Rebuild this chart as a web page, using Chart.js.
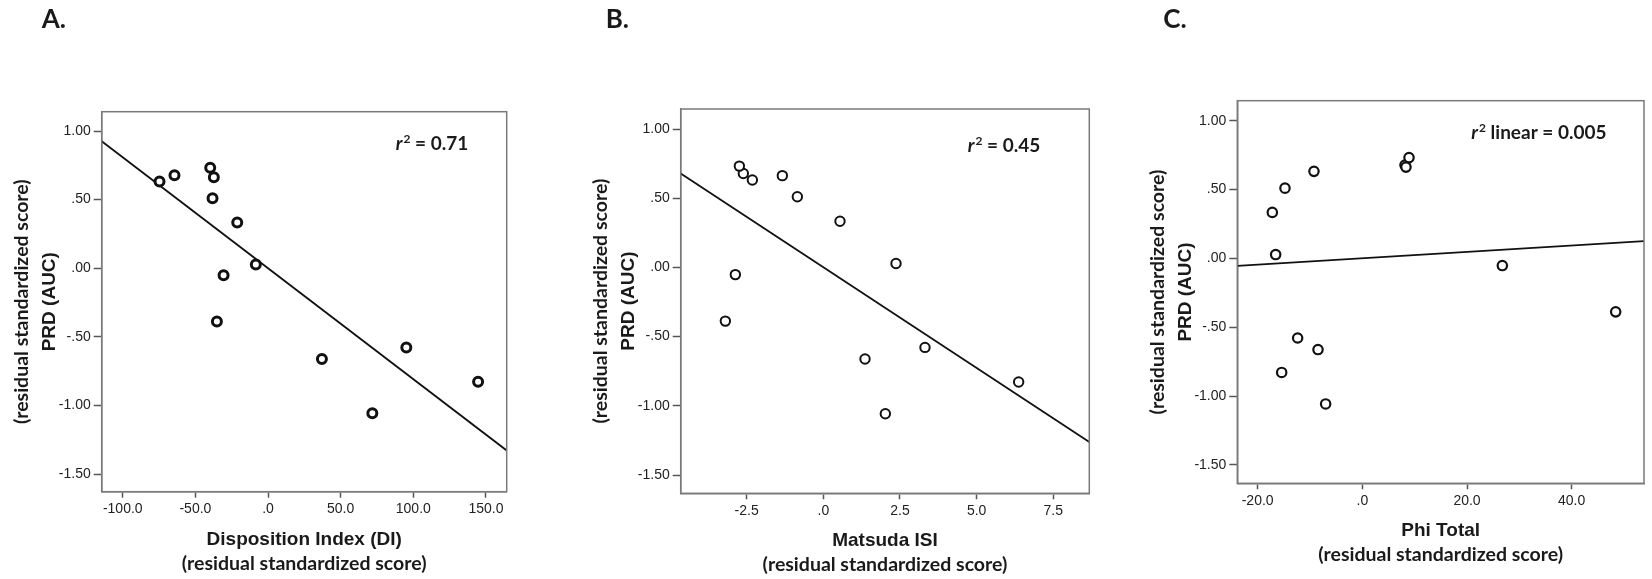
<!DOCTYPE html>
<html>
<head>
    <meta charset="UTF-8">
    <title>PRD (AUC) vs DI, Matsuda ISI, Phi Total</title>
    <script src="https://cdn.jsdelivr.net/npm/chart.js"></script>
    <style>
        body { margin: 0; background: #fff; }
        .panel { position: absolute; top: 0; }
    </style>
</head>
<body>
    <canvas id="chartA" class="panel" style="left:0px" width="540" height="579"></canvas>
    <canvas id="chartB" class="panel" style="left:560px" width="540" height="579"></canvas>
    <canvas id="chartC" class="panel" style="left:1100px" width="552" height="579"></canvas>

    <script>
        // PRD (AUC) residual scores, same 13 subjects in every panel
        const prdValues = [0.632, 0.678, 0.732, 0.663, 0.510, 0.334, 0.028, -0.052, -0.388, -0.662, -1.057, -0.578, -0.828];

        // x values per panel, in the same subject order
        const diValues      = [-74.7, -64.4, -39.8, -37.3, -38.2, -21.2, -8.4, -30.6, -35.2, 37.1, 71.8, 95.2, 144.6];
        const matsudaValues = [-2.315, -2.609, -2.739, -1.337, -0.848, 0.543, 2.370, -2.870, -3.196, 1.359, 2.022, 3.315, 6.370];
        const phiValues     = [-9.24, 8.15, 8.92, 8.34, -14.78, -17.20, -16.56, 26.75, 48.41, -8.47, -7.01, -12.36, -15.41];

        // tick values and labels
        const yTickValues = [1, 0.5, 0, -0.5, -1, -1.5];
        const yTickLabels = ['1.00', '.50', '.00', '-.50', '-1.00', '-1.50'];
        const xTicksA = [-100, -50, 0, 50, 100, 150];
        const xLabelsA = ['-100.0', '-50.0', '.0', '50.0', '100.0', '150.0'];
        const xTicksB = [-2.5, 0, 2.5, 5, 7.5];
        const xLabelsB = ['-2.5', '.0', '2.5', '5.0', '7.5'];
        const xTicksC = [-20, 0, 20, 40];
        const xLabelsC = ['-20.0', '.0', '20.0', '40.0'];

        // least squares fit line, drawn across the whole x range
        function fitLine(xs, ys, xmin, xmax) {
            const n = xs.length;
            const mx = xs.reduce((s, v) => s + v, 0) / n;
            const my = ys.reduce((s, v) => s + v, 0) / n;
            let sxy = 0, sxx = 0;
            for (let i = 0; i < n; i++) {
                sxy += (xs[i] - mx) * (ys[i] - my);
                sxx += (xs[i] - mx) * (xs[i] - mx);
            }
            const b = sxy / sxx;
            const a = my - b * mx;
            return [{ x: xmin, y: a + b * xmin }, { x: xmax, y: a + b * xmax }];
        }

        // frame, panel letter, r2 note and axis titles
        const panelText = {
            id: 'panelText',
            afterDraw(chart, args, o) {
                const ctx = chart.ctx;
                const a = chart.chartArea;
                ctx.save();
                ctx.strokeStyle = '#7a7a7a';
                ctx.lineWidth = 1.5;
                ctx.strokeRect(a.left, a.top, a.right - a.left, a.bottom - a.top);

                ctx.fillStyle = '#1a1a1a';
                ctx.textAlign = 'left';
                ctx.textBaseline = 'alphabetic';
                ctx.font = 'bold 26px Lato';
                ctx.fillText(o.letter, a.left + o.letterDx, 28);

                // r2 note
                let x = a.left + o.noteDx;
                const y = a.top + o.noteDy;
                ctx.font = 'italic bold 19px Lato';
                ctx.fillText('r', x, y);
                x += ctx.measureText('r').width + 1;
                ctx.font = 'bold 12px Lato';
                ctx.fillText('2', x, y - 7);
                x += ctx.measureText('2').width;
                ctx.font = 'bold 19px Lato';
                ctx.fillText(o.note, x, y);

                // x title
                const cx = (a.left + a.right) / 2;
                ctx.textAlign = 'center';
                ctx.font = 'bold 19px "Liberation Sans"';
                ctx.fillText(o.xTitle, cx, a.bottom + 53);
                ctx.font = 'bold 19.5px Lato';
                ctx.fillText('(residual standardized score)', cx, a.bottom + 78);

                // y title
                ctx.translate(0, (a.top + a.bottom) / 2);
                ctx.rotate(-Math.PI / 2);
                ctx.textBaseline = 'middle';
                ctx.font = 'bold 19px "Liberation Sans"';
                ctx.fillText('PRD (AUC)', 0, a.left - 52);
                ctx.font = 'bold 19.5px Lato';
                ctx.fillText('(residual standardized score)', 0, a.left - 80);
                ctx.restore();
            }
        };

        function makeChart(id, cfg) {
            const ctx = document.getElementById(id).getContext('2d');
            const points = cfg.xs.map((x, i) => ({ x: x, y: prdValues[i] }));
            return new Chart(ctx, {
                type: 'scatter',
                data: {
                    datasets: [{
                        data: points,
                        pointStyle: 'circle',
                        pointRadius: cfg.radius,
                        pointBorderWidth: cfg.ring,
                        pointBorderColor: '#111',
                        pointBackgroundColor: '#fff'
                    }, {
                        type: 'line',
                        data: fitLine(cfg.xs, prdValues, cfg.xMin, cfg.xMax),
                        borderColor: '#111',
                        borderWidth: 1.8,
                        pointRadius: 0,
                        fill: false
                    }]
                },
                options: {
                    responsive: false,
                    animation: false,
                    events: [],
                    layout: { padding: { top: cfg.top, right: cfg.padRight, left: 0, bottom: 0 } },
                    plugins: {
                        legend: { display: false },
                        tooltip: { enabled: false },
                        panelText: cfg.text
                    },
                    scales: {
                        x: {
                            type: 'linear',
                            min: cfg.xMin,
                            max: cfg.xMax,
                            afterBuildTicks: s => { s.ticks = cfg.xTicks.map(v => ({ value: v })); },
                            afterFit: s => { s.height = 579 - cfg.bottom; },
                            ticks: {
                                callback: v => cfg.xLabels[cfg.xTicks.indexOf(v)],
                                font: { family: 'Liberation Sans', size: 14 },
                                color: '#222',
                                padding: 3,
                                maxRotation: 0
                            },
                            grid: { drawOnChartArea: false, tickLength: 6, tickColor: '#555', tickWidth: 1.5 },
                            border: { color: '#7a7a7a', width: 1.5 }
                        },
                        y: {
                            type: 'linear',
                            min: cfg.yMin,
                            max: cfg.yMax,
                            afterBuildTicks: s => { s.ticks = yTickValues.map(v => ({ value: v })); },
                            afterFit: s => { s.width = cfg.left; },
                            ticks: {
                                callback: v => yTickLabels[yTickValues.indexOf(v)],
                                font: { family: 'Liberation Sans', size: 14 },
                                color: '#222',
                                padding: 3
                            },
                            grid: { drawOnChartArea: false, tickLength: 8, tickColor: '#555', tickWidth: 1.5 },
                            border: { color: '#7a7a7a', width: 1.5 }
                        }
                    }
                },
                plugins: [panelText]
            });
        }

        makeChart('chartA', {
            xs: diValues, xTicks: xTicksA, xLabels: xLabelsA,
            xMin: -114.5, xMax: 164.3, yMin: -1.629, yMax: 1.141,
            left: 101.7, padRight: 33.3, top: 111.7, bottom: 491.7,
            radius: 4.5, ring: 3,
            text: { letter: 'A.', letterDx: -60, note: ' = 0.71', noteDx: 294, noteDy: 38, xTitle: 'Disposition Index (DI)' }
        });

        makeChart('chartB', {
            xs: matsudaValues, xTicks: xTicksB, xLabels: xLabelsB,
            xMin: -4.652, xMax: 8.674, yMin: -1.632, yMax: 1.1445,
            left: 120.7, padRight: 10.7, top: 109, bottom: 493.3,
            radius: 4.7, ring: 2,
            text: { letter: 'B.', letterDx: -75, note: ' = 0.45', noteDx: 287, noteDy: 43, xTitle: 'Matsuda ISI' }
        });

        makeChart('chartC', {
            xs: phiValues, xTicks: xTicksC, xLabels: xLabelsC,
            xMin: -23.89, xMax: 53.82, yMin: -1.633, yMax: 1.145,
            left: 137.3, padRight: 8, top: 100.7, bottom: 483.3,
            radius: 4.7, ring: 2.2,
            text: { letter: 'C.', letterDx: -74, note: ' linear = 0.005', noteDx: 234, noteDy: 38, xTitle: 'Phi Total' }
        });
    </script>
</body>
</html>
